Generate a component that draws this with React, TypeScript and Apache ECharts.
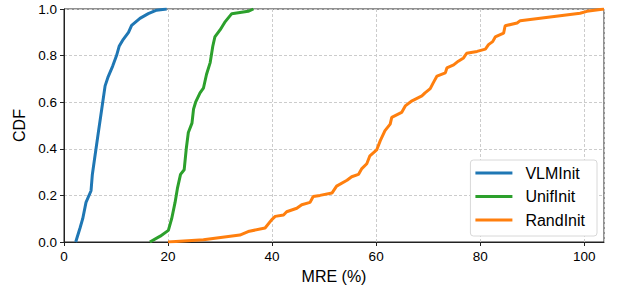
import React, { useEffect, useRef } from "react";
import * as echarts from "echarts";

const seriesNames = ["VLMInit", "UnifInit", "RandInit"];
const seriesColors = ["#1f77b4", "#2ca02c", "#ff7f0e"];

const vlmMre = [2.25, 3.08, 3.6, 4.23, 5.2, 5.45, 5.96, 6.6, 7.25, 7.9, 8.5, 9.36, 10.1, 10.6, 11.4, 12.4, 13.0, 14.6, 16.2, 17.8, 19.75];
const vlmCdf = [0, 0.06, 0.1, 0.17, 0.22, 0.29, 0.37, 0.47, 0.57, 0.67, 0.71, 0.755, 0.8, 0.84, 0.87, 0.9, 0.93, 0.96, 0.98, 0.995, 1.0];

const unifMre = [16.5, 18.5, 20.06, 20.7, 21.35, 21.8, 22.4, 23.1, 23.5, 23.9, 24.6, 24.9, 25.3, 26.15, 26.8, 27.4, 28.1, 28.6, 29.0, 30.0, 31.0, 32.25, 35.4, 36.4];
const unifCdf = [0, 0.025, 0.05, 0.1, 0.17, 0.23, 0.29, 0.31, 0.4, 0.47, 0.51, 0.57, 0.6, 0.64, 0.66, 0.72, 0.77, 0.84, 0.88, 0.91, 0.946, 0.98, 0.99, 1.0];

const randMre = [20.0, 26.8, 33.8, 35.4, 38.65, 39.9, 40.6, 42.2, 42.8, 44.75, 45.7, 47.3, 47.9, 49.2, 51.5, 52.4, 54.4, 55.3, 56.6, 57.25, 58.2, 58.8, 60.1, 60.8, 61.7, 62.7, 63.0, 64.9, 65.6, 66.9, 68.8, 69.4, 70.4, 71.0, 71.7, 73.3, 73.6, 74.9, 75.8, 76.8, 77.4, 79.4, 81.0, 81.6, 82.4, 82.9, 84.5, 84.8, 87.1, 87.7, 99.2, 100.5, 103.8];
const randCdf = [0, 0.01, 0.03, 0.045, 0.06, 0.095, 0.11, 0.116, 0.13, 0.145, 0.16, 0.17, 0.195, 0.2, 0.21, 0.24, 0.265, 0.28, 0.29, 0.315, 0.336, 0.37, 0.395, 0.435, 0.478, 0.506, 0.535, 0.556, 0.584, 0.606, 0.627, 0.64, 0.658, 0.684, 0.712, 0.726, 0.747, 0.76, 0.776, 0.79, 0.81, 0.818, 0.828, 0.847, 0.86, 0.88, 0.896, 0.928, 0.94, 0.95, 0.982, 0.99, 1.0];

const xMax = 103.8;
const font = "Liberation Sans, Arial, sans-serif";

function zip(xs: number[], ys: number[]) {
  return xs.map((x, i) => [x, ys[i]]);
}

export default function App() {
  const ref = useRef<HTMLDivElement>(null);
  useEffect(() => {
    if (!ref.current) return;
    const chart = echarts.init(ref.current, undefined, { renderer: "svg" });
    const data = [zip(vlmMre, vlmCdf), zip(unifMre, unifCdf), zip(randMre, randCdf)];
    chart.setOption({
      animation: false,
      backgroundColor: "#fff",
      textStyle: { fontFamily: font },
      grid: {
        left: 64,
        right: 13,
        top: 9,
        bottom: 45,
        show: true,
        borderColor: "#222",
        borderWidth: 1,
        backgroundColor: "transparent",
      },
      xAxis: {
        type: "value",
        min: 0,
        max: xMax,
        interval: 20,
        name: "MRE (%)",
        nameLocation: "middle",
        nameGap: 26,
        nameTextStyle: { fontSize: 16, color: "#000", fontFamily: font },
        axisLine: { show: true, lineStyle: { color: "#222", width: 1 } },
        axisTick: { show: true, inside: false, length: 4, lineStyle: { color: "#222" } },
        axisLabel: { fontSize: 13.5, color: "#000", margin: 7, showMaxLabel: false, fontFamily: font },
        splitLine: { show: true, lineStyle: { type: [3, 2], color: "#cccccc", width: 1 } },
      },
      yAxis: {
        type: "value",
        min: 0,
        max: 1,
        interval: 0.2,
        name: "CDF",
        nameLocation: "middle",
        nameGap: 30,
        nameTextStyle: { fontSize: 16, color: "#000", fontFamily: font },
        axisLine: { show: true, lineStyle: { color: "#222", width: 1 } },
        axisTick: { show: true, inside: false, length: 4, lineStyle: { color: "#222" } },
        axisLabel: {
          fontSize: 13.5,
          color: "#000",
          margin: 7,
          fontFamily: font,
          formatter: (v: number) => v.toFixed(1),
        },
        splitLine: { show: true, lineStyle: { type: [3, 2], color: "#cccccc", width: 1 } },
      },
      legend: {
        orient: "vertical",
        right: 20,
        bottom: 53,
        data: seriesNames,
        icon: "rect",
        itemWidth: 37,
        itemHeight: 3,
        itemGap: 7.5,
        padding: [5, 12, 8, 5],
        backgroundColor: "#fff",
        borderColor: "#d8d8d8",
        borderWidth: 1,
        borderRadius: 3,
        textStyle: { fontSize: 16, color: "#000", fontFamily: font, padding: [0, 0, 0, 8] },
      },
      series: seriesNames.map((name, i) => ({
        name,
        type: "line",
        data: data[i],
        showSymbol: false,
        symbol: "none",
        color: seriesColors[i],
        lineStyle: { width: 3, color: seriesColors[i] },
        clip: true,
        z: 3 + i,
      })),
    });
    return () => chart.dispose();
  }, []);
  return (
    <div
      ref={ref}
      style={{ position: "absolute", left: 0, top: 0, width: 617, height: 289 }}
    />
  );
}
